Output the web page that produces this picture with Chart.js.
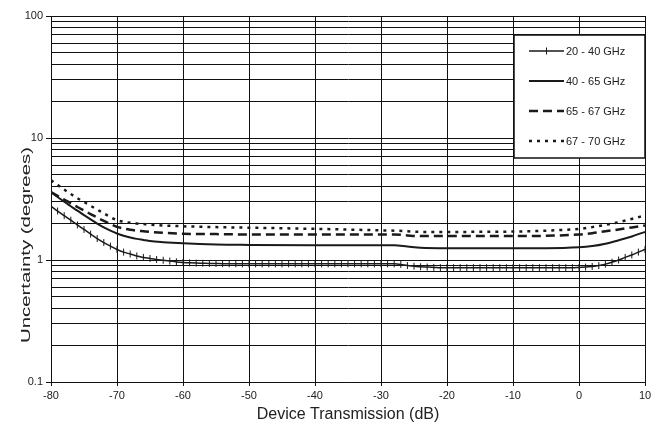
<!DOCTYPE html>
<html>
<head>
<meta charset="utf-8">
<script src="https://cdn.jsdelivr.net/npm/chart.js@4.4.1/dist/chart.umd.min.js"></script>
<style>
  html, body { margin: 0; padding: 0; background: #fff; }
  #wrap { width: 659px; height: 426px; }
</style>
</head>
<body>
<div id="wrap"><canvas id="uncChart" width="659" height="426"></canvas></div>
<script>
// series names (legend)
const seriesNames = ["20 - 40 GHz", "40 - 65 GHz", "65 - 67 GHz", "67 - 70 GHz"];

// 20-40 GHz is sampled every 1 dB (each point carries a tick mark)
const fineX = [-80,-79,-78,-77,-76,-75,-74,-73,-72,-71,-70,-69,-68,-67,-66,-65,-64,-63,-62,-61,
  -60,-59,-58,-57,-56,-55,-54,-53,-52,-51,-50,-49,-48,-47,-46,-45,-44,-43,-42,-41,
  -40,-39,-38,-37,-36,-35,-34,-33,-32,-31,-30,-29,-28,-27,-26,-25,-24,-23,-22,-21,
  -20,-19,-18,-17,-16,-15,-14,-13,-12,-11,-10,-9,-8,-7,-6,-5,-4,-3,-2,-1,
  0,1,2,3,4,5,6,7,8,9,10];
const band20to40 = [2.76,2.52,2.31,2.12,1.94,1.78,1.63,1.50,1.39,1.30,1.22,1.16,1.12,1.08,1.05,1.03,1.01,0.995,0.98,0.965,
  0.955,0.948,0.943,0.94,0.937,0.935,0.933,0.932,0.931,0.93,0.93,0.93,0.93,0.93,0.93,0.93,0.93,0.93,0.93,0.93,
  0.93,0.93,0.93,0.93,0.93,0.93,0.93,0.93,0.93,0.93,0.93,0.93,0.93,0.92,0.90,0.89,0.88,0.875,0.87,0.865,
  0.865,0.865,0.865,0.865,0.865,0.865,0.865,0.865,0.865,0.865,0.865,0.865,0.865,0.865,0.865,0.865,0.865,0.865,0.865,0.865,
  0.87,0.875,0.885,0.90,0.925,0.96,1.00,1.05,1.10,1.16,1.22];

// the other three bands, sampled more coarsely
const coarseX = [-80,-79,-78,-77,-76,-75,-74,-73,-72,-71,-70,-69,-68,-67,-66,-65,-63,-60,-55,-50,-40,-30,-28,-26,-24,-20,-10,-5,0,2,4,6,8,10];
const band40to65 = [3.60,3.28,3.00,2.76,2.54,2.33,2.15,1.99,1.85,1.74,1.65,1.58,1.53,1.49,1.46,1.43,1.40,1.37,1.34,1.33,1.32,1.32,1.32,1.29,1.26,1.25,1.25,1.25,1.27,1.30,1.36,1.45,1.56,1.70];
const band65to67 = [3.60,3.35,3.12,2.92,2.72,2.55,2.38,2.23,2.09,1.97,1.87,1.81,1.77,1.74,1.72,1.70,1.67,1.64,1.63,1.62,1.62,1.62,1.62,1.59,1.57,1.57,1.57,1.58,1.62,1.66,1.72,1.78,1.85,1.92];
const band67to70 = [4.50,4.12,3.78,3.47,3.21,2.99,2.78,2.59,2.41,2.25,2.12,2.06,2.02,1.99,1.97,1.95,1.92,1.89,1.86,1.84,1.80,1.75,1.74,1.72,1.70,1.70,1.71,1.74,1.80,1.86,1.94,2.04,2.17,2.32];

// axis ticks
const xTicks = [-80,-70,-60,-50,-40,-30,-20,-10,0,10];
const yGrid = [0.1,0.2,0.3,0.4,0.5,0.6,0.7,0.8,0.9,1,2,3,4,5,6,7,8,9,10,20,30,40,50,60,70,80,90,100];
const yLabels = [0.1,1,10,100];
const yTitle = 'Uncertainty (degrees)';

function pairs(xs, ys) {
    let out = [];
    for (let i = 0; i < xs.length; i++) {
        out.push({ x: xs[i], y: ys[i] });
    }
    return out;
}

const FONT = "'Liberation Sans', Arial, sans-serif";

// y title: the original is stretched along its length, so draw it by hand
const yTitlePlugin = {
    id: 'yTitlePlugin',
    afterDraw(chart) {
        const ctx = chart.ctx;
        ctx.save();
        ctx.font = '13px ' + FONT;
        const w = ctx.measureText(yTitle).width;
        ctx.translate(26, 245);
        ctx.rotate(-Math.PI / 2);
        ctx.scale(196 / w, 1);
        ctx.fillStyle = '#222';
        ctx.textAlign = 'center';
        ctx.textBaseline = 'middle';
        ctx.fillText(yTitle, 0, 0);
        ctx.restore();
    }
};

// legend drawn inside the plot, top right, with a framed box
const boxLegend = {
    id: 'boxLegend',
    afterDraw(chart) {
        const ctx = chart.ctx;
        const area = chart.chartArea;
        const left = 514, top = 35, right = area.right, bottom = 158;
        ctx.save();
        ctx.fillStyle = '#fff';
        ctx.fillRect(left, top, right - left, bottom - top);
        ctx.strokeStyle = '#111';
        ctx.lineWidth = 1.5;
        ctx.strokeRect(left, top, right - left, bottom - top);
        ctx.font = '11px ' + FONT;
        ctx.textBaseline = 'middle';
        ctx.fillStyle = '#222';
        chart.data.datasets.forEach(function (ds, i) {
            const y = 51 + i * 30;
            ctx.strokeStyle = ds.borderColor;
            ctx.lineWidth = ds.borderWidth;
            ctx.setLineDash(ds.borderDash || []);
            ctx.beginPath();
            ctx.moveTo(529, y);
            ctx.lineTo(564, y);
            ctx.stroke();
            ctx.setLineDash([]);
            if (ds.pointRadius > 0) {
                ctx.lineWidth = 1;
                ctx.beginPath();
                ctx.moveTo(546.5, y - 3.5);
                ctx.lineTo(546.5, y + 3.5);
                ctx.stroke();
            }
            ctx.fillText(ds.label, 566, y + 0.5);
        });
        ctx.restore();
    }
};

let ctx = document.getElementById('uncChart').getContext('2d');
let myChart = new Chart(ctx, {
    type: 'line',
    data: {
        datasets: [{
            label: seriesNames[0],
            data: pairs(fineX, band20to40),
            borderColor: '#1a1a1a',
            borderWidth: 1.5,
            pointStyle: 'line',
            rotation: 90,
            pointRadius: 3.5,
            pointBorderWidth: 1,
            pointBorderColor: '#1a1a1a',
            cubicInterpolationMode: 'monotone'
        }, {
            label: seriesNames[1],
            data: pairs(coarseX, band40to65),
            borderColor: '#1a1a1a',
            borderWidth: 2,
            pointRadius: 0,
            cubicInterpolationMode: 'monotone'
        }, {
            label: seriesNames[2],
            data: pairs(coarseX, band65to67),
            borderColor: '#1a1a1a',
            borderWidth: 2.5,
            borderDash: [9, 5],
            pointRadius: 0,
            cubicInterpolationMode: 'monotone'
        }, {
            label: seriesNames[3],
            data: pairs(coarseX, band67to70),
            borderColor: '#1a1a1a',
            borderWidth: 2.5,
            borderDash: [3, 5],
            pointRadius: 0,
            cubicInterpolationMode: 'monotone'
        }]
    },
    options: {
        responsive: false,
        animation: false,
        events: [],
        layout: { padding: { left: 0, right: 14, top: 16, bottom: 0 } },
        plugins: {
            legend: { display: false },
            tooltip: { enabled: false }
        },
        scales: {
            x: {
                type: 'linear',
                min: -80,
                max: 10,
                afterBuildTicks: function (scale) {
                    scale.ticks = xTicks.map(v => ({ value: v }));
                },
                afterFit: function (scale) { scale.height = 44; },
                border: { color: '#111', width: 1 },
                grid: { color: '#111', lineWidth: 1, tickLength: 4, tickColor: '#111' },
                ticks: {
                    color: '#222',
                    font: { family: FONT, size: 11 },
                    padding: 3,
                    maxRotation: 0
                },
                title: {
                    display: true,
                    text: 'Device Transmission (dB)',
                    color: '#222',
                    font: { family: FONT, size: 16 },
                    padding: { top: 0, bottom: 2 }
                }
            },
            y: {
                type: 'logarithmic',
                min: 0.1,
                max: 100,
                afterBuildTicks: function (scale) {
                    scale.ticks = yGrid.map(v => ({ value: v }));
                },
                afterFit: function (scale) { scale.width = 51; },
                border: { color: '#111', width: 1 },
                grid: {
                    color: '#111',
                    lineWidth: 1,
                    tickLength: 5,
                    tickColor: function (c) {
                        return yLabels.indexOf(c.tick.value) >= 0 ? '#111' : 'rgba(0,0,0,0)';
                    }
                },
                ticks: {
                    autoSkip: false,
                    color: '#222',
                    font: { family: FONT, size: 11 },
                    padding: 3,
                    callback: function (value) {
                        return yLabels.indexOf(value) >= 0 ? String(value) : '';
                    }
                }
            }
        }
    },
    plugins: [boxLegend, yTitlePlugin]
});
</script>
</body>
</html>
